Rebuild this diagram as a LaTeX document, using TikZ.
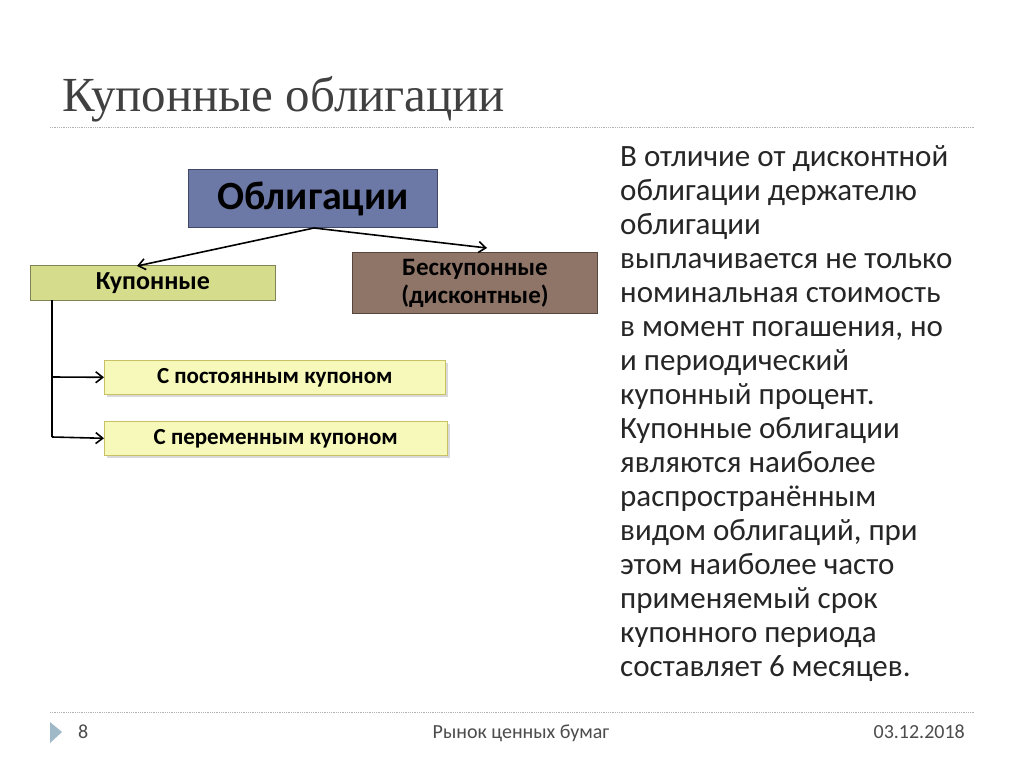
\documentclass[tikz,border=0pt]{standalone}
\usepackage{fontspec}
\usetikzlibrary{arrows.meta}
\setmainfont{Carlito}
\newfontfamily\titlefont{Liberation Serif}
\definecolor{cobl}{RGB}{108,120,166}
\definecolor{ckup}{RGB}{213,220,140}
\definecolor{cbesk}{RGB}{143,116,104}
\definecolor{clight}{RGB}{246,249,185}
\definecolor{ctri}{RGB}{160,185,200}
\begin{document}
\begin{tikzpicture}[x=1pt,y=-1pt,
  box/.style={draw=#1!60!black,line width=1pt,inner sep=0pt,font=\bfseries},
  arr/.style={-{Straight Barb[length=7pt,width=11pt]},line width=1.6pt},
  dotline/.style={densely dotted,draw=gray!60,line width=0.8pt}]
\useasboundingbox (0,0) rectangle (1024,767);
\fill[white] (0,0) rectangle (1024,767);
\node[anchor=base west,font=\titlefont\fontsize{49}{54}\selectfont,text=black!75,inner sep=0pt] (title) at (62,112) {Купонные облигации};
\draw[dotline] (50,127) -- (975,127);
\node[box=cobl,fill=cobl,minimum width=249,minimum height=58,anchor=north west,font=\bfseries\fontsize{40}{44}\selectfont] (obl) at (188,169) {Облигации};
\node[box=ckup,fill=ckup,minimum width=245,minimum height=35,anchor=north west,font=\bfseries\fontsize{26}{28}\selectfont] (kup) at (30,265) {Купонные};
\node[box=cbesk,fill=cbesk,minimum width=245,minimum height=61,anchor=north west,align=center,font=\bfseries\fontsize{25}{28}\selectfont] (besk) at (352,252) {Бескупонные\\(дисконтные)};
\fill[gray!30] (107,363) rectangle (448,397);
\node[draw=yellow!50!gray,line width=0.6pt,fill=clight,minimum width=341,minimum height=34,anchor=north west,font=\bfseries\fontsize{23}{26}\selectfont] (post) at (104,360) {С постоянным купоном};
\fill[gray!30] (107,424) rectangle (450,458);
\node[draw=yellow!50!gray,line width=0.6pt,fill=clight,minimum width=343,minimum height=34,anchor=north west,font=\bfseries\fontsize{23}{26}\selectfont] (per) at (104,421) {С переменным купоном};
\coordinate (top) at (314,228);
\draw[arr] (top) -- (137,266);
\draw[arr] (top) -- (487,248);
\coordinate (vtop) at (52,300);
\draw[line width=1.6pt] (vtop) -- (52,437);
\draw[arr] (52,377) -- (post.west);
\draw[arr] (52,437) -- (per.west);
\node[anchor=north west,align=left,font=\fontsize{31}{34}\selectfont,text=black!85,inner sep=0pt] (txt) at (620,145) {В отличие от дисконтной\\облигации держателю\\облигации\\выплачивается не только\\номинальная стоимость\\в момент погашения, но\\и периодический\\купонный процент.\\Купонные облигации\\являются наиболее\\распространённым\\видом облигаций, при\\этом наиболее часто\\применяемый срок\\купонного периода\\составляет 6 месяцев.};
\draw[dotline] (50,712) -- (975,712);
\fill[ctri] (50,722) -- (62,732) -- (50,743) -- cycle;
\node[anchor=base west,font=\fontsize{20}{22}\selectfont,text=black!70,inner sep=0pt] (num) at (78,738) {8};
\node[anchor=base,font=\fontsize{20}{22}\selectfont,text=black!70,inner sep=0pt] (foot) at (521,738) {Рынок ценных бумаг};
\node[anchor=base east,font=\fontsize{20}{22}\selectfont,text=black!70,inner sep=0pt] (date) at (965,738) {03.12.2018};
\end{tikzpicture}
\end{document}
